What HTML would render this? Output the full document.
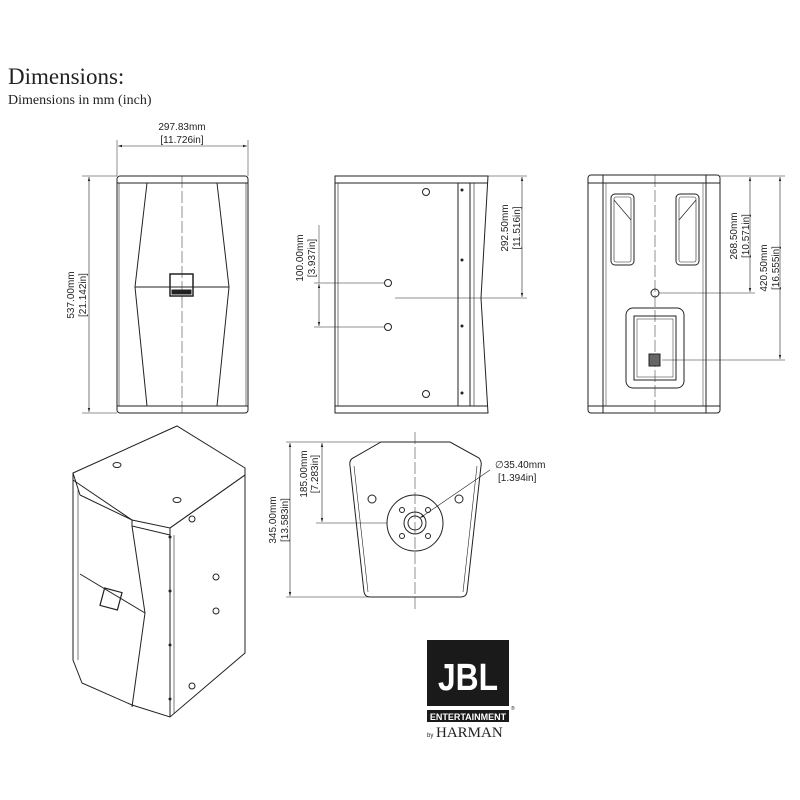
<!DOCTYPE html>
<html><head><style>
html,body{margin:0;padding:0;background:#fff;}
svg{display:block;}
.t{font-family:"Liberation Sans",sans-serif;font-size:10px;fill:#222;}
</style></head><body>
<svg width="800" height="800" viewBox="0 0 800 800" xmlns="http://www.w3.org/2000/svg">
<defs><marker id="a" viewBox="0 0 10 10" refX="10" refY="5" markerWidth="7" markerHeight="7" orient="auto-start-reverse"><path d="M0,2 L10,5 L0,8z" fill="#222"/></marker></defs>
<text x="8" y="84" font-family="Liberation Serif,serif" font-size="23" fill="#222">Dimensions:</text>
<text x="8" y="104" font-family="Liberation Serif,serif" font-size="14" fill="#222">Dimensions in mm (inch)</text>
<g fill="none" stroke="#222" stroke-width="1">
<!-- front view -->
<rect x="117" y="176" width="131" height="237" rx="3"/>
<line x1="117" y1="183" x2="248" y2="183"/><line x1="117" y1="406" x2="248" y2="406"/>
<line x1="119" y1="183" x2="119" y2="406" stroke-width="0.6"/><line x1="246" y1="183" x2="246" y2="406" stroke-width="0.6"/>
<path d="M147,183 L135,287 L147,406 M217,183 L229,287 L217,406 M135,287 L229,287"/>
<line x1="182" y1="176" x2="182" y2="413" stroke-width="0.5" stroke-dasharray="12,3"/>
<rect x="170" y="274" width="23" height="22" stroke-width="1.5"/><rect x="172" y="290" width="19" height="4" fill="#222"/>
<line x1="117" y1="140" x2="117" y2="176" stroke-width="0.5"/><line x1="248" y1="140" x2="248" y2="176" stroke-width="0.5"/>
<line x1="118" y1="146" x2="247" y2="146" stroke-width="0.6" marker-start="url(#a)" marker-end="url(#a)"/>
<line x1="82" y1="176" x2="117" y2="176" stroke-width="0.5"/><line x1="82" y1="413" x2="117" y2="413" stroke-width="0.5"/>
<line x1="89" y1="177" x2="89" y2="412" stroke-width="0.6" marker-start="url(#a)" marker-end="url(#a)"/>
<!-- side view -->
<path d="M335,176 L488,176 L481,298 L488,413 L335,413 Z"/>
<line x1="335" y1="183" x2="488" y2="183"/><line x1="335" y1="406" x2="488" y2="406"/>
<line x1="338" y1="183" x2="338" y2="406" stroke-width="0.6"/>
<rect x="458" y="183" width="12" height="223"/><line x1="474" y1="183" x2="474" y2="406" stroke-width="0.6"/>
<circle cx="426" cy="192" r="3.5"/><circle cx="388" cy="283" r="3.5"/><circle cx="388" cy="327" r="3.5"/><circle cx="426" cy="394" r="3.5"/>
<line x1="314" y1="283" x2="384" y2="283" stroke-width="0.5"/><line x1="314" y1="327" x2="384" y2="327" stroke-width="0.5"/>
<line x1="319" y1="284" x2="319" y2="326" stroke-width="0.6" marker-start="url(#a)" marker-end="url(#a)"/>
<line x1="319" y1="225" x2="319" y2="283" stroke-width="0.5"/>
<line x1="395" y1="298" x2="527" y2="298" stroke-width="0.5"/><line x1="488" y1="176" x2="527" y2="176" stroke-width="0.5"/>
<line x1="522" y1="177" x2="522" y2="297" stroke-width="0.6" marker-start="url(#a)" marker-end="url(#a)"/>
<!-- rear view -->
<rect x="588" y="175" width="132" height="238" rx="3"/>
<line x1="588" y1="183" x2="720" y2="183"/><line x1="588" y1="406" x2="720" y2="406"/>
<line x1="603" y1="175" x2="603" y2="413"/><line x1="706" y1="175" x2="706" y2="413"/>
<line x1="606" y1="183" x2="606" y2="406" stroke-width="0.5"/><line x1="703" y1="183" x2="703" y2="406" stroke-width="0.5"/>
<rect x="611" y="194" width="23" height="71" rx="4"/><rect x="614" y="197" width="17" height="65" rx="2" stroke-width="0.6"/>
<rect x="676" y="194" width="23" height="71" rx="4"/><rect x="679" y="197" width="17" height="65" rx="2" stroke-width="0.6"/>
<path d="M614,200 L631,220 M679,220 L696,200" stroke-width="0.7"/>
<line x1="655" y1="175" x2="655" y2="413" stroke-width="0.5" stroke-dasharray="12,3"/>
<circle cx="655" cy="293" r="4"/>
<rect x="626" y="308" width="58" height="80" rx="7"/><rect x="634" y="316" width="42" height="64"/><rect x="637" y="319" width="36" height="58" stroke-width="0.5"/>
<rect x="649" y="354" width="11" height="12" fill="#666"/>
<line x1="659" y1="293" x2="755" y2="293" stroke-width="0.5"/><line x1="662" y1="360" x2="785" y2="360" stroke-width="0.5"/>
<line x1="720" y1="176" x2="785" y2="176" stroke-width="0.5"/>
<line x1="750" y1="177" x2="750" y2="292" stroke-width="0.6" marker-start="url(#a)" marker-end="url(#a)"/>
<line x1="780" y1="177" x2="780" y2="359" stroke-width="0.6" marker-start="url(#a)" marker-end="url(#a)"/>
<!-- bottom view -->
<path d="M381,442 L450,442 L479,458 Q482,462 481,466 L467,592 Q466,597 461,597 L370,597 Q365,597 364,592 L350,466 Q349,460 353,458 Z"/>
<path d="M354,466 L368,592 M477,466 L463,592" stroke-width="0.6"/>
<line x1="415" y1="432" x2="415" y2="610" stroke-width="0.5" stroke-dasharray="12,3"/>
<circle cx="415" cy="523" r="28"/><circle cx="415" cy="523" r="11"/><circle cx="415" cy="523" r="7"/>
<circle cx="402" cy="510" r="2.5"/><circle cx="428" cy="510" r="2.5"/><circle cx="402" cy="536" r="2.5"/><circle cx="428" cy="536" r="2.5"/>
<circle cx="372" cy="499" r="4"/><circle cx="459" cy="499" r="4"/>
<line x1="420" y1="518" x2="490" y2="470" stroke-width="0.6" marker-start="url(#a)"/>
<line x1="286" y1="442" x2="381" y2="442" stroke-width="0.5"/><line x1="286" y1="597" x2="370" y2="597" stroke-width="0.5"/>
<line x1="316" y1="523" x2="387" y2="523" stroke-width="0.5"/>
<line x1="290" y1="443" x2="290" y2="596" stroke-width="0.6" marker-start="url(#a)" marker-end="url(#a)"/>
<line x1="322" y1="443" x2="322" y2="522" stroke-width="0.6" marker-start="url(#a)" marker-end="url(#a)"/>
<!-- isometric -->
<path d="M73,473 L177,426 L245,468 L245,653 L170,717 L132,705 L82,683 L73,660 Z"/>
<path d="M73,480 L132,520 L170,528 L245,475"/>
<path d="M80,495 L132,520 M73,473 L80,495 M132,520 L132,526 L170,535 L170,528 M245,475 L170,528"/>
<line x1="170" y1="528" x2="170" y2="717"/><line x1="174" y1="535" x2="174" y2="714" stroke-width="0.6"/>
<path d="M132,526 L145,613 L132,707"/>
<path d="M80,574 L145,613"/>
<path d="M73,480 L73,660 M78,490 L78,660" stroke-width="0.6"/>
<rect x="102" y="590" width="18" height="18" transform="rotate(15 111 599)" stroke-width="1.2"/>
<ellipse cx="117" cy="465" rx="4" ry="2.5"/><ellipse cx="177" cy="500" rx="4" ry="2.5"/>
<circle cx="192" cy="519" r="3"/><circle cx="216" cy="577" r="3"/><circle cx="216" cy="611" r="3"/><circle cx="192" cy="686" r="3"/>
</g>
<g fill="#222"><circle cx="462" cy="190" r="1.5"/><circle cx="462" cy="260" r="1.5"/><circle cx="462" cy="326" r="1.5"/><circle cx="462" cy="393" r="1.5"/>
<circle cx="170" cy="537" r="1.5"/><circle cx="170" cy="591" r="1.5"/><circle cx="170" cy="645" r="1.5"/><circle cx="170" cy="699" r="1.5"/></g>
<g class="t">
<text x="182" y="130" text-anchor="middle">297.83mm</text><text x="182" y="143" text-anchor="middle">[11.726in]</text>
<text transform="translate(74,295) rotate(-90)" text-anchor="middle">537.00mm</text><text transform="translate(86,295) rotate(-90)" text-anchor="middle">[21.142in]</text>
<text transform="translate(303,258) rotate(-90)" text-anchor="middle">100.00mm</text><text transform="translate(315,258) rotate(-90)" text-anchor="middle">[3.937in]</text>
<text transform="translate(508,228) rotate(-90)" text-anchor="middle">292.50mm</text><text transform="translate(520,228) rotate(-90)" text-anchor="middle">[11.516in]</text>
<text transform="translate(737,236) rotate(-90)" text-anchor="middle">268.50mm</text><text transform="translate(749,236) rotate(-90)" text-anchor="middle">[10.571in]</text>
<text transform="translate(767,268) rotate(-90)" text-anchor="middle">420.50mm</text><text transform="translate(779,268) rotate(-90)" text-anchor="middle">[16.555in]</text>
<text transform="translate(276,520) rotate(-90)" text-anchor="middle">345.00mm</text><text transform="translate(288,520) rotate(-90)" text-anchor="middle">[13.583in]</text>
<text transform="translate(307,474) rotate(-90)" text-anchor="middle">185.00mm</text><text transform="translate(318,474) rotate(-90)" text-anchor="middle">[7.283in]</text>
<text x="495" y="468">∅35.40mm</text><text x="498" y="481">[1.394in]</text>
</g>
<rect x="427" y="640" width="82" height="66" fill="#1a1a1a"/>
<text x="468" y="690" text-anchor="middle" font-family="Liberation Sans Narrow,Liberation Sans,sans-serif" font-weight="bold" font-size="38" fill="#fff" textLength="60" lengthAdjust="spacingAndGlyphs">JBL</text>
<rect x="427" y="710" width="82" height="12" fill="#1a1a1a"/>
<text x="468" y="720" text-anchor="middle" font-family="Liberation Sans,sans-serif" font-weight="bold" font-size="9" fill="#fff">ENTERTAINMENT</text>
<text x="511" y="710" font-family="Liberation Sans,sans-serif" font-size="5" fill="#222">®</text>
<text x="427" y="737" font-family="Liberation Sans,sans-serif" font-size="6" fill="#222">by</text>
<text x="436" y="737" font-family="Liberation Serif,serif" font-size="15" fill="#222">HARMAN</text>
</svg>
</body></html>
